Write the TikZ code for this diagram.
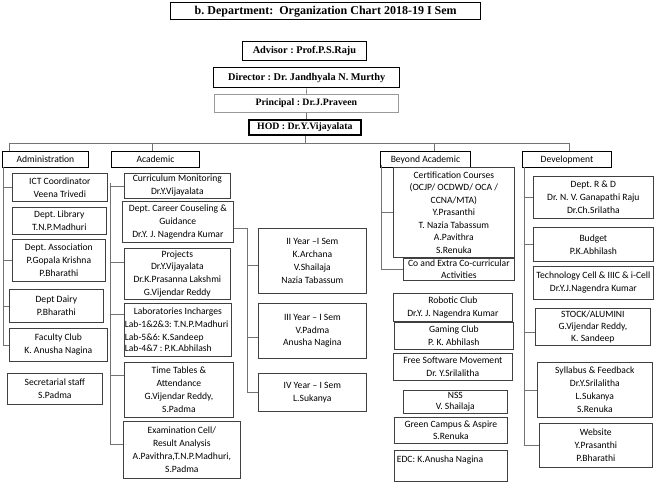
\documentclass[tikz,border=0pt]{standalone}
\usepackage{fontspec}
\setmainfont{Carlito}
\newfontfamily\headfont{Liberation Serif}
\usepackage{tikz}
\usetikzlibrary{positioning}

\begin{document}
\frenchspacing
\begin{tikzpicture}
    [x=1pt,y=-1pt,
     head/.style={draw,line width=1.4pt,anchor=north west,inner sep=1pt,font=\headfont\bfseries\fontsize{10.3}{12}\selectfont},
     grp/.style={draw,line width=0.9pt,anchor=north west,inner sep=1pt,minimum height=16pt,font=\fontsize{9.6}{11}\selectfont},
     unit/.style={draw=black!75,line width=0.7pt,anchor=north west,inner sep=1pt,align=center,font=\fontsize{9.6}{12.8}\selectfont},
     link/.style={draw=black!55,line width=0.6pt}]

    \useasboundingbox (0,0) rectangle (655,483);

    % top of the chart
    \node[head,font=\headfont\bfseries\fontsize{12}{14}\selectfont,minimum width=310pt,minimum height=17pt] (title) at (170,2) {b. Department:\ \ Organization Chart 2018-19 I Sem};
    \node[head,line width=0.9pt,minimum width=124pt,minimum height=19pt] (advisor) at (242,41) {Advisor : Prof.P.S.Raju};
    \node[head,minimum width=186pt,minimum height=20pt] (director) at (213,67) {Director : Dr. Jandhyala N. Murthy};
    \node[head,draw=black!40,line width=0.7pt,minimum width=184pt,minimum height=18pt,font=\headfont\bfseries\fontsize{9.8}{11}\selectfont] (principal) at (214,94) {Principal : Dr.J.Praveen};
    \node[head,line width=1.6pt,minimum width=112pt,minimum height=15pt,font=\headfont\bfseries\fontsize{9.8}{11}\selectfont] (hod) at (248,119) {HOD : Dr.Y.Vijayalata};

    \draw[link] (director.south) -- (principal.north);
    \draw[link] (principal.south) -- (principal.south |- hod.north);

    % the four wings
    \node[grp,minimum width=86pt] (admin) at (2,151) {Administration};
    \node[grp,minimum width=88pt] (academic) at (111,151) {Academic};
    \node[grp,minimum width=90pt] (beyond) at (380,151) {Beyond Academic};
    \node[grp,minimum width=89pt] (devel) at (522,151) {Development};

    \coordinate (addrop) at (9,143);
    \coordinate (acdrop) at (152,143);
    \coordinate (bydrop) at (434,143);
    \coordinate (dvdrop) at (569,143);
    \draw[link] (hod.south) -- (hod.south |- addrop);
    \draw[link] (addrop) -- (dvdrop);
    \draw[link] (addrop) -- (addrop |- admin.north);
    \draw[link] (acdrop) -- (acdrop |- academic.north);
    \draw[link] (bydrop) -- (bydrop |- beyond.north);
    \draw[link] (dvdrop) -- (dvdrop |- devel.north);

    % administration
    \node[unit,minimum width=95pt,minimum height=28pt] (ict) at (12,173) {ICT Coordinator\\Veena Trivedi};
    \node[unit,minimum width=94pt,minimum height=27pt] (library) at (12,207) {Dept. Library\\T.N.P.Madhuri};
    \node[unit,minimum width=93pt,minimum height=42pt] (assoc) at (12,239) {Dept. Association\\P.Gopala Krishna\\P.Bharathi};
    \node[unit,minimum width=94pt,minimum height=33pt] (dairy) at (9,289) {Dept Dairy\\P.Bharathi};
    \node[unit,minimum width=98pt,minimum height=33pt] (faculty) at (9,328) {Faculty Club\\K. Anusha Nagina};
    \node[unit,minimum width=95pt,minimum height=31pt] (secret) at (7,373) {Secretarial staff\\S.Padma};

    \coordinate (adline) at (3,167);
    \foreach \n in {ict,assoc,dairy,faculty}
      \draw[link] (\n.west) -| (adline);

    % academic
    \node[unit,minimum width=106pt,minimum height=25pt] (curric) at (124,173) {Curriculum Monitoring\\Dr.Y.Vijayalata};
    \node[unit,minimum width=111pt,minimum height=41pt] (career) at (122,201) {Dept. Career Couseling \&\\Guidance\\Dr.Y. J. Nagendra Kumar};
    \node[unit,minimum width=106pt,minimum height=51pt] (projects) at (124,248) {Projects\\Dr.Y.Vijayalata\\Dr.K.Prasanna Lakshmi\\G.Vijendar Reddy};
    \node[unit,minimum width=107pt,minimum height=53pt,align=flush left,text width=106pt,inner sep=0.5pt] (labs) at (124,303) {\makebox[106pt]{Laboratories Incharges}\\Lab-1\&2\&3: T.N.P.Madhuri\\Lab-5\&6: K.Sandeep\\[-2pt]Lab-4\&7 : P.K.Abhilash};
    \node[unit,minimum width=109pt,minimum height=55pt] (timetab) at (124,362) {Time Tables \&\\Attendance\\G.Vijendar Reddy,\\S.Padma};
    \node[unit,minimum width=117pt,minimum height=57pt] (exam) at (123,421) {Examination Cell/\\Result Analysis\\A.Pavithra,T.N.P.Madhuri,\\S.Padma};

    \coordinate (acline) at (110,183);
    \draw[link] (curric.west) -| (acline);
    \draw[link] ([yshift=12pt]projects.west) -| (acline);
    \draw[link] ([yshift=16pt]labs.west) -| (acline);
    \draw[link] ([yshift=15pt]timetab.west) -| (acline);
    \draw[link] ([yshift=6pt]exam.west) -| (acline);

    % semester counsellors
    \node[unit,minimum width=108pt,minimum height=65pt] (second) at (258,228) {II Year --I Sem\\K.Archana\\V.Shailaja\\Nazia Tabassum};
    \node[unit,minimum width=108pt,minimum height=55pt] (third) at (258,303) {III Year -- I Sem\\V.Padma\\Anusha Nagina};
    \node[unit,minimum width=108pt,minimum height=38pt] (fourth) at (258,373) {IV Year -- I Sem\\L.Sukanya};

    \coordinate (yrline) at (247,392);
    \draw[link] ([yshift=-6pt]career.east) -| (yrline);
    \draw[link] ([yshift=-4pt]second.west) -| (yrline);
    \draw[link] ([yshift=-6pt]third.west) -| (yrline);
    \draw[link] (fourth.west) -| (yrline);

    % beyond academic
    \node[unit,minimum width=121pt,minimum height=90pt,font=\fontsize{9.6}{12.5}\selectfont] (cert) at (393,167) {Certification Courses\\(OCJP/ OCDWD/ OCA /\\CCNA/MTA)\\Y.Prasanthi\\T. Nazia Tabassum\\A.Pavithra\\S.Renuka};
    \node[unit,minimum width=111pt,minimum height=22pt,font=\fontsize{9.6}{12}\selectfont] (cocurr) at (403,258) {Co and Extra Co-curricular\\Activities};
    \node[unit,minimum width=119pt,minimum height=28pt] (robotic) at (393,293) {Robotic Club\\Dr.Y. J. Nagendra Kumar};
    \node[unit,minimum width=119pt,minimum height=27pt] (gaming) at (394,322) {Gaming Club\\P. K. Abhilash};
    \node[unit,minimum width=119pt,minimum height=27pt] (freesoft) at (393,353) {Free Software Movement\\Dr. Y.Srilalitha};
    \node[unit,minimum width=104pt,minimum height=23pt,font=\fontsize{9.6}{11}\selectfont] (nss) at (403,390) {NSS\\V. Shailaja};
    \node[unit,minimum width=113pt,minimum height=26pt,font=\fontsize{9.6}{12}\selectfont] (green) at (394,417) {Green Campus \& Aspire\\S.Renuka};
    \node[unit,minimum width=113pt,minimum height=31pt,align=flush left,text width=108pt,text depth=14pt] (edc) at (394,450) {EDC: K.Anusha Nagina};

    \coordinate (byline) at (381,165);
    \draw[link] (cert.west) -| (byline);
    \draw[link] (cocurr.west) -| (byline);

    % development
    \node[unit,minimum width=120pt,minimum height=42pt] (rnd) at (533,176) {Dept. R \& D\\Dr. N. V. Ganapathi Raju\\Dr.Ch.Srilatha};
    \node[unit,minimum width=120pt,minimum height=34pt] (budget) at (533,227) {Budget\\P.K.Abhilash};
    \node[unit,minimum width=120pt,minimum height=33pt] (techcell) at (533,266) {Technology Cell \& IIIC \& i-Cell\\Dr.Y.J.Nagendra Kumar};
    \node[unit,minimum width=115pt,minimum height=37pt,font=\fontsize{9.6}{12}\selectfont] (stock) at (535,308) {STOCK/ALUMINI\\G.Vijendar Reddy,\\K. Sandeep};
    \node[unit,minimum width=115pt,minimum height=55pt] (syllabus) at (537,362) {Syllabus \& Feedback\\Dr.Y.Srilalitha\\L.Sukanya\\S.Renuka};
    \node[unit,minimum width=113pt,minimum height=44pt] (website) at (539,423) {Website\\Y.Prasanthi\\P.Bharathi};

    \coordinate (dvline) at (524,167);
    \foreach \n in {rnd,budget,syllabus,website}
      \draw[link] (\n.west) -| (dvline);
    \draw[link] ([yshift=-5pt]stock.west) -| (dvline);
  \end{tikzpicture}
\end{document}
